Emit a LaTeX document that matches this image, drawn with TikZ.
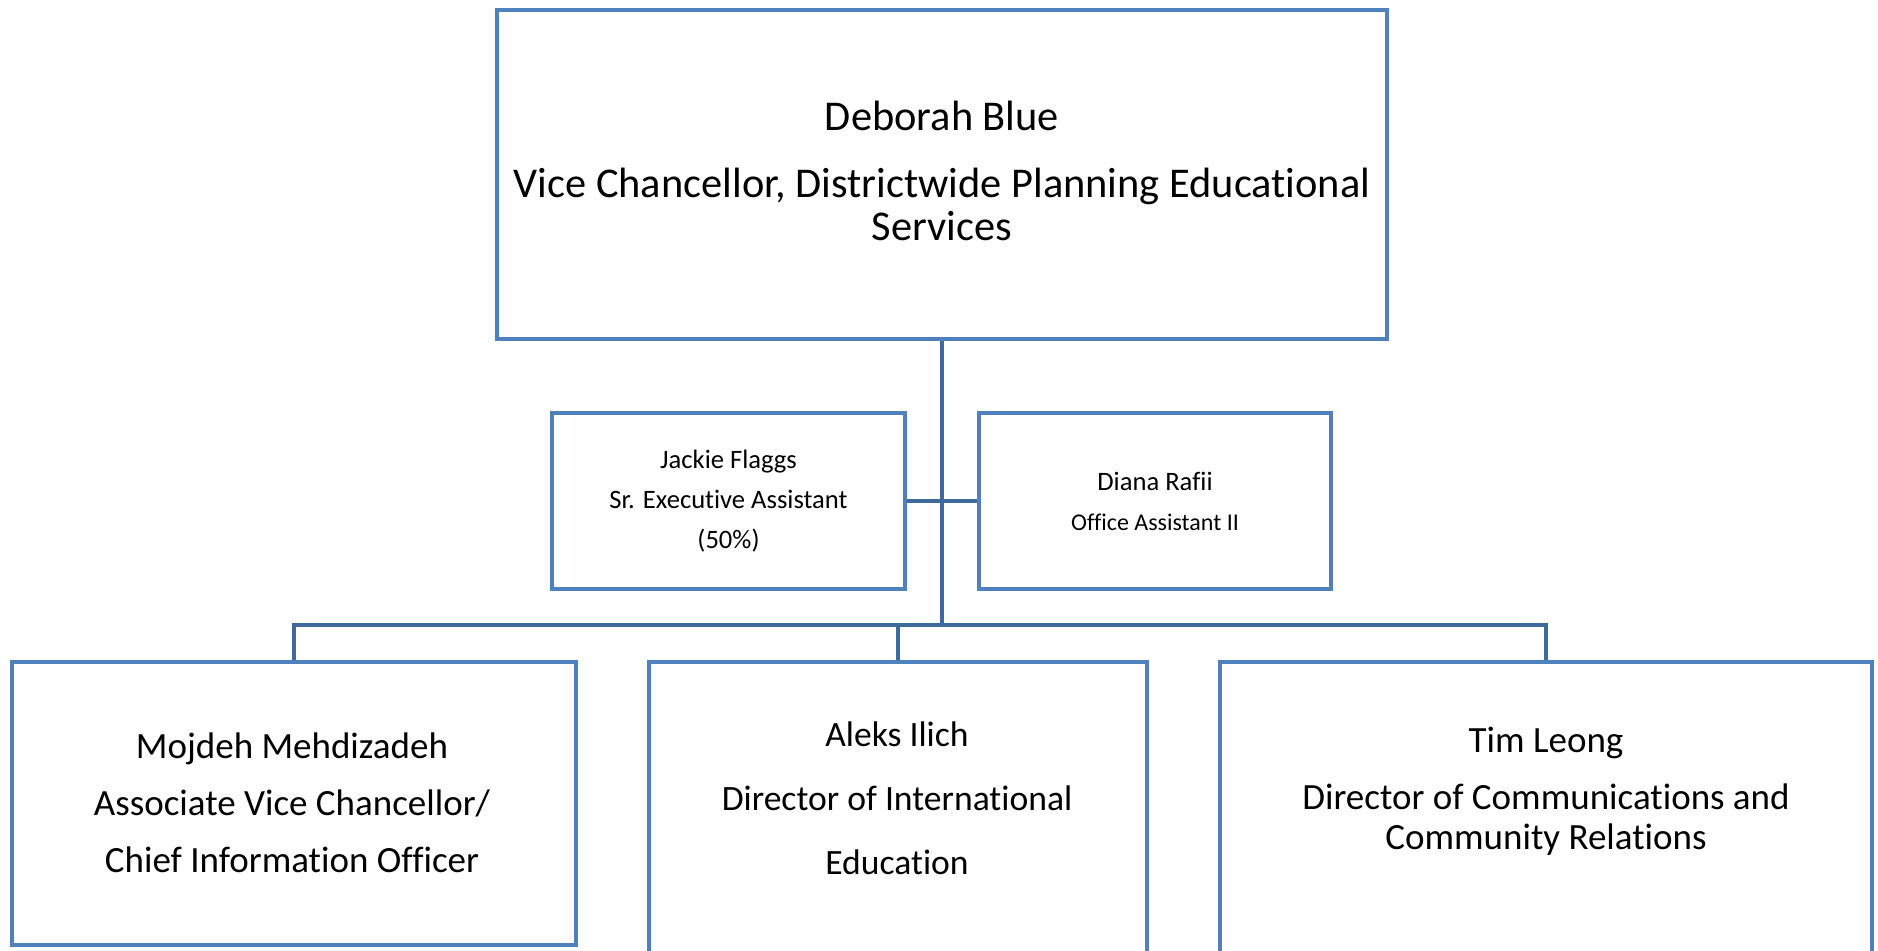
\documentclass[tikz,border=0pt]{standalone}
\usepackage{fontspec}
\setmainfont{Carlito}[RawFeature={-liga;-clig;-dlig;-calt;-hlig}]
\definecolor{boxblue}{HTML}{4F81BD}
\definecolor{lineblue}{HTML}{3F6A9C}
\begin{document}
\begin{tikzpicture}[x=0.5pt,y=-0.5pt,
  orgbox/.style={draw=boxblue,line width=2pt,fill=white,inner sep=0pt,anchor=center},
  conn/.style={draw=lineblue,line width=2pt},
  txt/.style={align=center,inner sep=0pt,anchor=center,text=black}]
\useasboundingbox (0,0) rectangle (1878,950);
\clip (0,0) rectangle (1878,950);
% boxes
\node[orgbox,minimum width=445pt,minimum height=164.5pt] (top) at (942,174.5) {};
\node[orgbox,minimum width=176.5pt,minimum height=88pt] (jackie) at (728.5,501) {};
\node[orgbox,minimum width=176pt,minimum height=88pt] (diana) at (1155,501) {};
\node[orgbox,minimum width=282pt,minimum height=141.5pt] (b1) at (294,803.5) {};
\node[orgbox,minimum width=249pt,minimum height=169pt] (b2) at (898,831) {};
\node[orgbox,minimum width=326pt,minimum height=169pt] (b3) at (1546,831) {};
\coordinate (bus) at (942,625);
% connectors
\draw[conn] (top.south) -- (bus);
\draw[conn] (jackie.east) -- (diana.west);
\draw[conn] (b1.north) |- (bus) -| (b3.north);
\draw[conn] (b2.north) -- (b2.north |- bus);
% texts
\node[txt,font=\fontsize{21.2}{21.5}\selectfont] (topt) at (942,171) {Deborah Blue\\[12pt]Vice Chancellor, Districtwide Planning Educational\\Services};
\node[txt,font=\fontsize{13.3}{20}\selectfont] (jackiet) at (728.5,501) {Jackie Flaggs\\Sr. Executive Assistant\\(50\%)};
\node[txt,font=\fontsize{13.3}{20}\selectfont] (dianat) at (1155,501) {Diana Rafii\\{\fontsize{12}{20}\selectfont Office Assistant II}};
\node[txt,font=\fontsize{18.5}{28.5}\selectfont] (b1t) at (292,803) {Mojdeh Mehdizadeh\\Associate Vice Chancellor/\\Chief Information Officer};
\node[txt,font=\fontsize{17.8}{32}\selectfont] (b2t) at (897,798) {Aleks Ilich\\Director of International\\Education};
\node[txt,font=\fontsize{18.5}{20}\selectfont] (b3t) at (1546,791) {Tim Leong\\[8.5pt]Director of Communications and\\Community Relations};
\end{tikzpicture}
\end{document}
